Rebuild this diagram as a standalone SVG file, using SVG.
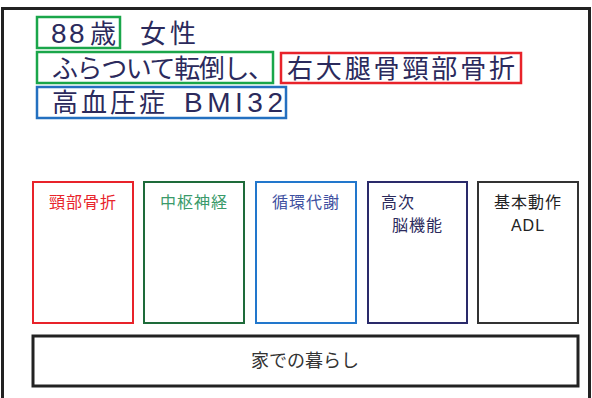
<svg xmlns="http://www.w3.org/2000/svg" width="592" height="398" viewBox="0 0 592 398">
<style>
.big{font-family:"Liberation Sans","Noto Sans CJK JP",sans-serif;font-size:26px;fill:#2b2a5c}
.lat{font-family:"Liberation Sans","Noto Sans CJK JP",sans-serif;font-size:28px;fill:#2b2a5c}
.sm{font-family:"Liberation Sans","Noto Sans CJK JP",sans-serif;font-size:16px;text-anchor:middle}
.hl{fill:none;stroke-width:2.5}
.col{fill:#fff;stroke-width:2}
</style>
<rect x="0" y="0" width="592" height="398" fill="#fff"/>
<g id="frame"><rect x="2.5" y="8.5" width="587" height="392" fill="#fff" stroke="#222" stroke-width="3"/></g>
<g id="header">
<rect class="hl" x="37" y="17" width="83" height="31" stroke="#1aa64a"/>
<rect class="hl" x="37" y="52" width="236" height="31" stroke="#1aa64a"/>
<rect class="hl" x="281" y="53" width="240" height="30" stroke="#e8232a"/>
<rect class="hl" x="37" y="87" width="249" height="31" stroke="#2470c0"/>
<text class="lat" x="51" y="43" letter-spacing="2.5">88</text>
<text class="big" x="90" y="43">歳</text>
<text class="big" x="140" y="43" textLength="56" lengthAdjust="spacing">女性</text>
<text class="big" x="52" y="78" textLength="222" lengthAdjust="spacing">ふらついて転倒し、</text>
<text class="big" x="287" y="78" textLength="228" lengthAdjust="spacing">右大腿骨頸部骨折</text>
<text class="big" x="52" y="112" textLength="113" lengthAdjust="spacing">高血圧症</text>
<text class="lat" x="184" y="112" textLength="99" lengthAdjust="spacing">BMI32</text>
</g>
<g id="n1"><rect class="col" x="33" y="182" width="100" height="141" stroke="#e8232a"/><text class="sm" x="83" y="208" fill="#e8232a" letter-spacing="1">頸部骨折</text></g>
<g id="n2"><rect class="col" x="144" y="182" width="100" height="141" stroke="#1e6b3a"/><text class="sm" x="194" y="208" fill="#3a9a6a" letter-spacing="1">中枢神経</text></g>
<g id="n3"><rect class="col" x="256" y="182" width="100" height="141" stroke="#2277cc"/><text class="sm" x="306" y="208" fill="#4050a0" letter-spacing="1">循環代謝</text></g>
<g id="n4"><rect class="col" x="368" y="182" width="99" height="141" stroke="#2a2a6a"/><text class="sm" x="381" y="208" fill="#2b2a5c" style="text-anchor:start" letter-spacing="1">高次</text><text class="sm" x="392" y="231" fill="#2b2a5c" style="text-anchor:start" letter-spacing="1">脳機能</text></g>
<g id="n5"><rect class="col" x="478" y="182" width="100" height="141" stroke="#333"/><text class="sm" x="528" y="208" fill="#222" letter-spacing="1">基本動作</text><text class="sm" x="528" y="231" fill="#222" letter-spacing="1">ADL</text></g>
<g id="n6"><rect x="33" y="336" width="545" height="50" fill="#fff" stroke="#222" stroke-width="3"/><text class="sm" x="305" y="367" fill="#333" style="font-size:18px">家での暮らし</text></g>
<g id="connectors"/>
</svg>
